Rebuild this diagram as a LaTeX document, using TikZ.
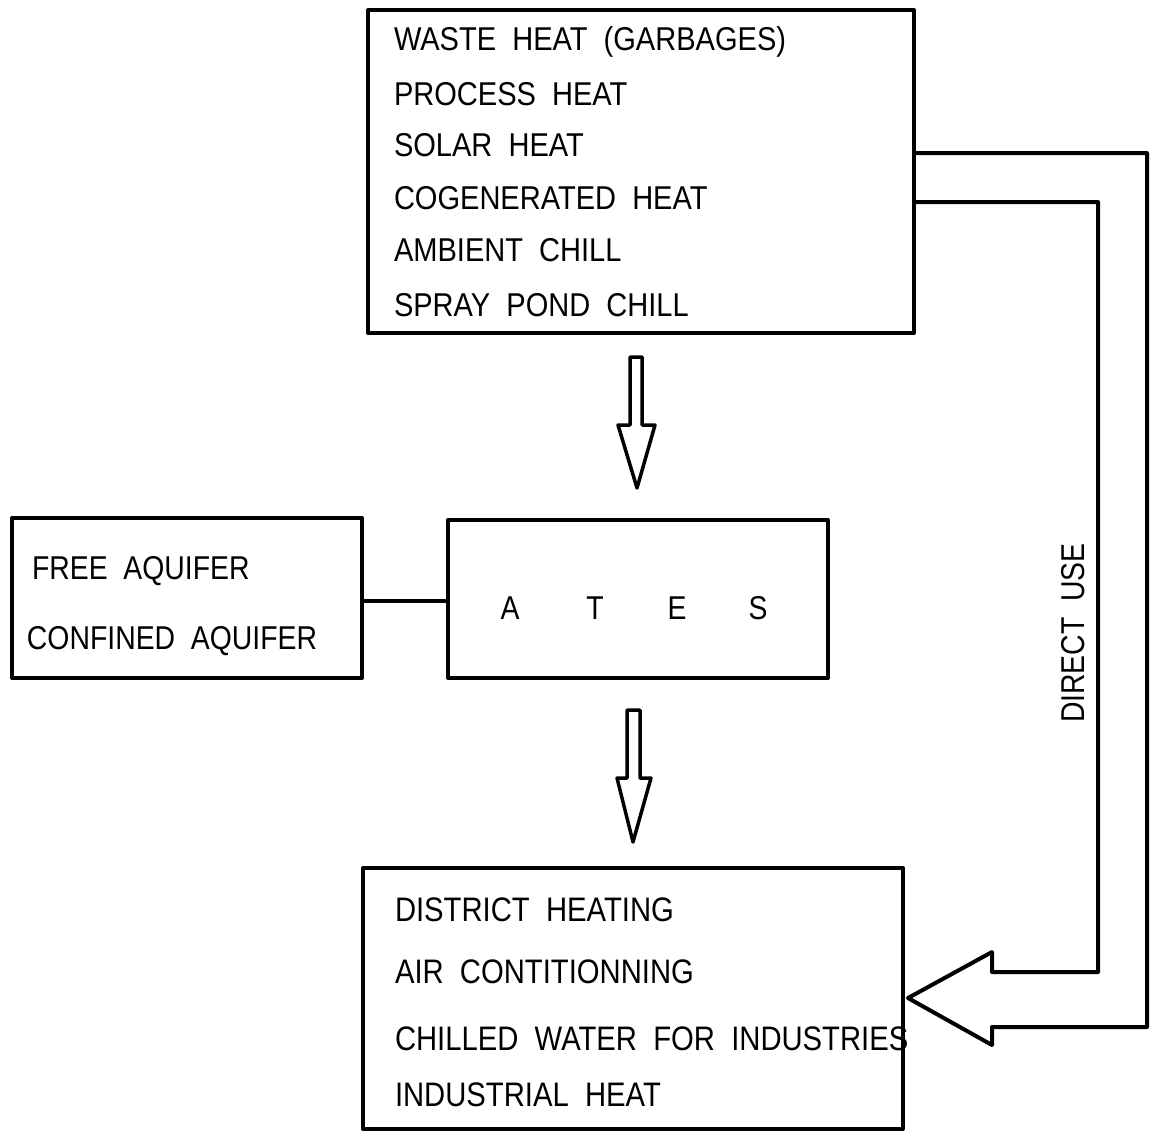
\documentclass[tikz,border=0pt]{standalone}
\usepackage{fontspec}
\setmainfont{Liberation Sans}[FakeStretch=0.86,WordSpace=2]
\newfontfamily\topfont{Liberation Sans}[FakeStretch=0.88,WordSpace=2]
\begin{document}
\begin{tikzpicture}[x=1pt,y=-1pt,line width=4pt,line join=round,
  box/.style={draw,rectangle,inner sep=0pt,outer sep=0pt,anchor=north west},
  txt/.style={anchor=base west,inner sep=0pt,font=\topfont\fontsize{33}{40}\selectfont},
  txtl/.style={anchor=base west,inner sep=0pt,font=\fontsize{33}{40}\selectfont},
  txtb/.style={anchor=base west,inner sep=0pt,font=\fontsize{34}{40}\selectfont},
  letter/.style={anchor=base,inner sep=0pt,font=\fontsize{33}{40}\selectfont},
  hollow/.style={draw,line width=3.5pt}]
\useasboundingbox (0,0) rectangle (1153,1133);

% boxes
\node[box,minimum width=546pt,minimum height=323pt] (top) at (368,10) {};
\node[box,minimum width=350pt,minimum height=160pt] (left) at (12,518) {};
\node[box,minimum width=380pt,minimum height=158pt] (ates) at (448,520) {};
\node[box,minimum width=540pt,minimum height=261pt] (bot) at (363,868) {};

% top box text
\node[txt] (t1) at (392,50) {WASTE HEAT (GARBAGES)};
\node[txt] (t2) at (392,105) {PROCESS HEAT};
\node[txt] (t3) at (392,156) {SOLAR HEAT};
\node[txt] (t4) at (392,209) {COGENERATED HEAT};
\node[txt] (t5) at (392,261) {AMBIENT CHILL};
\node[txt] (t6) at (392,316) {SPRAY POND CHILL};

% left box text
\node[txtl] (l1) at (30,579) {FREE AQUIFER};
\node[txtl] (l2) at (25,649) {CONFINED AQUIFER};

% ATES letters
\node[letter] (a1) at (510,619) {A};
\node[letter] (a2) at (595,619) {T};
\node[letter] (a3) at (677,619) {E};
\node[letter] (a4) at (758,619) {S};

% bottom box text
\node[txtb] (b1) at (393,921) {DISTRICT HEATING};
\node[txtb] (b2) at (393,983) {AIR CONTITIONNING};
\node[txtb] (b3) at (393,1050) {CHILLED WATER FOR INDUSTRIES};
\node[txtb] (b4) at (393,1106) {INDUSTRIAL HEAT};

% direct use label
\node[letter,rotate=90] (du) at (1084,633) {DIRECT USE};

% connector left box -> ATES
\coordinate (yc) at (0,601);
\draw (left.east |- yc) -- (ates.west |- yc);

% hollow arrows
\draw[hollow] (630,357) -- (642,357) -- (642,425) -- (655,425) -- (637,488)
  -- (618,425) -- (630,425) -- cycle;
\draw[hollow] (627,710) -- (640,710) -- (640,778) -- (651,778) -- (633,842)
  -- (617,778) -- (627,778) -- cycle;

% direct use arrow
\coordinate (ya) at (0,153);
\coordinate (yb) at (0,202);
\coordinate (tip) at (908,998);
\draw (top.east |- ya) -- (1147,153) -- (1147,1027) -- (992,1027) -- (992,1045)
  -- (tip) -- (992,952) -- (992,972) -- (1098,972) -- (1098,202) -- (top.east |- yb);
\end{tikzpicture}
\end{document}
